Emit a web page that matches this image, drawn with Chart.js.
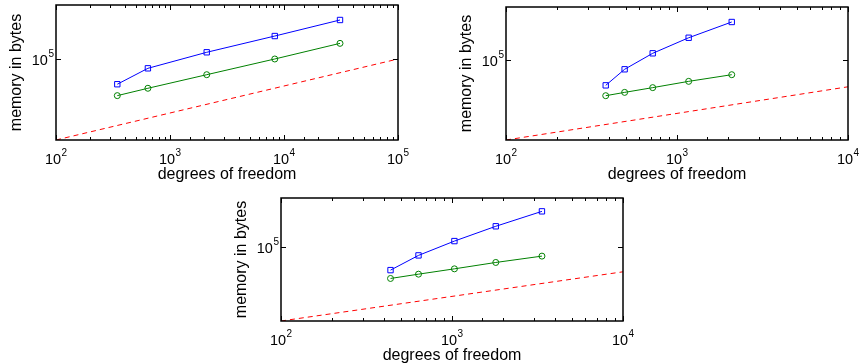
<!DOCTYPE html>
<html>
<head>
<meta charset="utf-8">
<script src="https://cdn.jsdelivr.net/npm/chart.js@4/dist/chart.umd.min.js"></script>
<style>
  html, body { margin: 0; padding: 0; background: #fff; }
  #wrap { position: relative; width: 860px; height: 364px; overflow: hidden; }
  canvas { position: absolute; }
</style>
</head>
<body>
<div id="wrap">
  <canvas id="c1" width="430" height="186" style="left:0px;top:0px;"></canvas>
  <canvas id="c2" width="430" height="186" style="left:430px;top:0px;"></canvas>
  <canvas id="c3" width="430" height="186" style="left:210px;top:178px;"></canvas>
</div>
<script>
// values
const dofs1 = [345, 640, 2100, 8300, 31000];
const blue1 = [48800, 76700, 121000, 192000, 303000];
const green1 = [35300, 43500, 64000, 100000, 156000];

const dofs2 = [383, 494, 721, 1170, 2090];
const blue2 = [48400, 76900, 122000, 191000, 301000];
const green2 = [35900, 39500, 45300, 54300, 65800];

const dofs3 = [437, 637, 1033, 1803, 3357];
const blue3 = [48900, 77400, 121000, 192000, 306000];
const green3 = [37700, 43100, 50900, 62100, 75700];

// dashed reference line
const refDofs1 = [100, 100000];
const refMem1 = [10000, 100000];
const refDofs23 = [100, 10000];
const refMem23 = [10000, 46416];

// tick labels are written as 10 with a raised exponent
const xTicks1 = [100, 1000, 10000, 100000];
const xTickExps1 = ['2', '3', '4', '5'];
const xTicks23 = [100, 1000, 10000];
const xTickExps23 = ['2', '3', '4'];
const yTicks = [100000];
const yTickExps = ['5'];

const yMin = 10000;
const yMax = 464000;

const FAMILY = '"Liberation Sans", Arial, Helvetica, sans-serif';
const FONT = { family: FAMILY, size: 16 };

function near(a, b) {
    return Math.abs(Math.log10(a) - Math.log10(b)) < 1e-6;
}

// draws "10" plus a small raised exponent; (x, y) = left end of the text, on its baseline
function drawPow(ctx, x, y, exp) {
    ctx.font = '14.5px ' + FAMILY;
    const w1 = ctx.measureText('10').width;
    ctx.fillText('10', x, y);
    ctx.font = '10px ' + FAMILY;
    ctx.fillText(exp, x + w1 + 0.5, y - 8);
}

function powWidth(ctx, exp) {
    ctx.font = '14.5px ' + FAMILY;
    const w1 = ctx.measureText('10').width;
    ctx.font = '10px ' + FAMILY;
    return w1 + 0.5 + ctx.measureText(exp).width;
}

// MATLAB style box, inward ticks on all four sides, and power-of-ten labels
const boxTicks = {
    id: 'boxTicks',
    afterDraw(chart, args, opts) {
        const { ctx, chartArea: a, scales: { x, y } } = chart;
        ctx.save();
        ctx.strokeStyle = '#000';
        ctx.lineWidth = 1;
        ctx.beginPath();
        x.ticks.forEach(t => {
            const px = Math.round(x.getPixelForValue(t.value)) + 0.5;
            const len = opts.xTicks.some(v => near(v, t.value)) ? 5 : 3;
            ctx.moveTo(px, a.bottom); ctx.lineTo(px, a.bottom - len);
            ctx.moveTo(px, a.top); ctx.lineTo(px, a.top + len);
        });
        opts.yTicks.forEach(v => {
            const py = Math.round(y.getPixelForValue(v)) + 0.5;
            ctx.moveTo(a.left, py); ctx.lineTo(a.left + 5, py);
            ctx.moveTo(a.right, py); ctx.lineTo(a.right - 5, py);
        });
        ctx.stroke();
        ctx.lineWidth = 1.5;
        ctx.strokeRect(a.left, a.top, a.right - a.left, a.bottom - a.top);

        ctx.fillStyle = '#000';
        ctx.textAlign = 'left';
        ctx.textBaseline = 'alphabetic';
        opts.xTicks.forEach((v, i) => {
            const px = x.getPixelForValue(v);
            const w = powWidth(ctx, opts.xExps[i]);
            drawPow(ctx, px - w / 2, a.bottom + 24, opts.xExps[i]);
        });
        opts.yTicks.forEach((v, i) => {
            const py = y.getPixelForValue(v);
            const w = powWidth(ctx, opts.yExps[i]);
            drawPow(ctx, a.left - 2 - w, py + 6, opts.yExps[i]);
        });
        ctx.restore();
    }
};

function makeChart(id, area, dofs, blue, green, refX, refY, xMax, xTicks, xExps) {
    const el = document.getElementById(id);
    const W = el.width, H = el.height;
    const pts = (xs, ys) => xs.map((d, i) => ({ x: d, y: ys[i] }));

    return new Chart(el.getContext('2d'), {
        type: 'line',
        data: {
            datasets: [
                {
                    data: pts(dofs, blue),
                    borderColor: '#0000ff',
                    borderWidth: 1,
                    pointStyle: 'rect',
                    pointRadius: 3.8,
                    pointBorderWidth: 1,
                    pointBorderColor: '#0000ff',
                    pointBackgroundColor: 'rgba(0,0,0,0)',
                    tension: 0
                },
                {
                    data: pts(dofs, green),
                    borderColor: '#008000',
                    borderWidth: 1,
                    pointStyle: 'circle',
                    pointRadius: 3,
                    pointBorderWidth: 1,
                    pointBorderColor: '#008000',
                    pointBackgroundColor: 'rgba(0,0,0,0)',
                    tension: 0
                },
                {
                    data: pts(refX, refY),
                    borderColor: '#ff0000',
                    borderWidth: 1,
                    borderDash: [5, 4],
                    pointRadius: 0,
                    tension: 0
                }
            ]
        },
        options: {
            responsive: false,
            animation: false,
            events: [],
            layout: { padding: { left: 0, top: area.top, right: W - area.right, bottom: 0 } },
            plugins: {
                legend: { display: false },
                tooltip: { enabled: false },
                boxTicks: { xTicks: xTicks, xExps: xExps, yTicks: yTicks, yExps: yTickExps }
            },
            scales: {
                x: {
                    type: 'logarithmic',
                    min: 100,
                    max: xMax,
                    grid: { display: false },
                    border: { display: false },
                    ticks: { display: false, autoSkip: false, maxRotation: 0, minRotation: 0 },
                    title: {
                        display: true,
                        text: 'degrees of freedom',
                        color: '#000',
                        font: FONT,
                        padding: { top: 0, bottom: H - area.bottom - 35 - 9.6 }
                    },
                    afterFit(s) {
                        s.height = H - area.bottom;
                        s.paddingLeft = 0;
                        s.paddingRight = 0;
                    }
                },
                y: {
                    type: 'logarithmic',
                    min: yMin,
                    max: yMax,
                    grid: { display: false },
                    border: { display: false },
                    ticks: { display: false, autoSkip: false },
                    title: {
                        display: true,
                        text: 'memory in bytes',
                        color: '#000',
                        font: FONT,
                        padding: { top: area.left - 39 - 9.6, bottom: 0 }
                    },
                    afterFit(s) {
                        s.width = area.left;
                        s.paddingTop = 0;
                        s.paddingBottom = 0;
                    }
                }
            }
        },
        plugins: [boxTicks]
    });
}

makeChart('c1', { left: 56, top: 5, right: 398, bottom: 140 },
    dofs1, blue1, green1, refDofs1, refMem1, 100000, xTicks1, xTickExps1);
makeChart('c2', { left: 76, top: 7, right: 418, bottom: 140 },
    dofs2, blue2, green2, refDofs23, refMem23, 10000, xTicks23, xTickExps23);
makeChart('c3', { left: 71, top: 20, right: 413, bottom: 143 },
    dofs3, blue3, green3, refDofs23, refMem23, 10000, xTicks23, xTickExps23);
</script>
</body>
</html>
